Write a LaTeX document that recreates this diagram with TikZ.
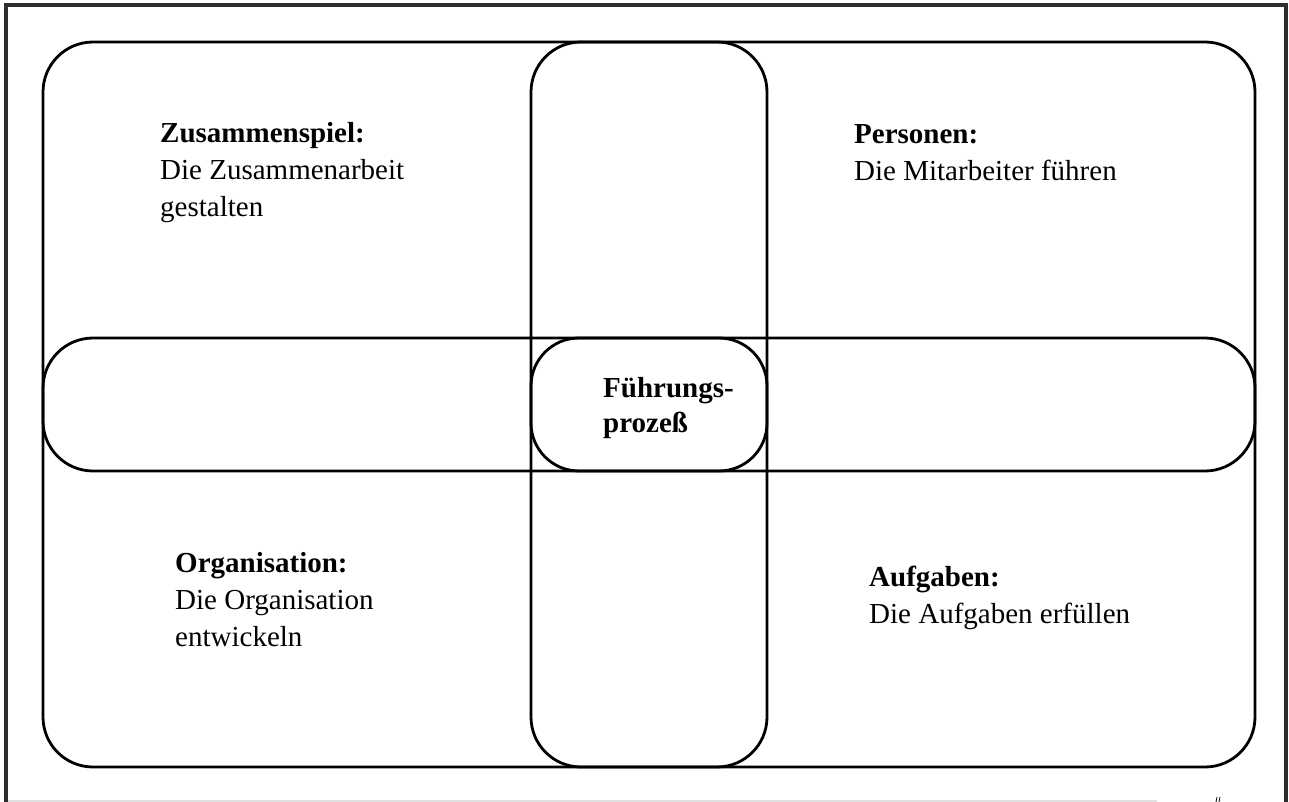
\documentclass[tikz,border=0pt]{standalone}
\usepackage{fontspec}
\setmainfont{Liberation Serif}
\begin{document}
\begin{tikzpicture}[x=1pt,y=-1pt,
  frameline/.style={draw=black!82,line width=4pt},
  roundbox/.style={draw=black,line width=2.8pt,rounded corners=#1,inner sep=0pt,outer sep=0pt},
  label/.style={anchor=base west,inner sep=0pt,font=\fontsize{29}{37}\selectfont},
  midlabel/.style={anchor=base west,inner sep=0pt,font=\fontsize{29}{35}\selectfont\bfseries}]
\useasboundingbox (0,0) rectangle (1289,802);

% page frame, open at the bottom
\coordinate (fl) at (5.5,802);
\coordinate (ftl) at (5.5,5.5);
\coordinate (ftr) at (1285.5,5.5);
\coordinate (fr) at (1285.5,802);
\draw[frameline] (fl) -- (ftl) -- (ftr) -- (fr);
\coordinate (bl) at (8,801);
\coordinate (br) at (1157,801);
\draw[black!12,line width=1.5pt] (bl) -- (br);
\coordinate (q1) at (1217,797);
\coordinate (q2) at (1216,802);
\coordinate (q3) at (1220,797);
\coordinate (q4) at (1219,802);
\draw[black,line width=0.8pt] (q1) -- (q2) (q3) -- (q4);

% the four fields, the cross and the centre
\node[roundbox=50pt,minimum width=1212pt,minimum height=725pt] (outer) at (649,404.5) {};
\node[roundbox=50pt,minimum width=236pt,minimum height=725pt] (vbar) at (649,404.5) {};
\node[roundbox=50pt,minimum width=1212pt,minimum height=133pt] (hbar) at (649,404.5) {};
\node[roundbox=48pt,minimum width=236pt,minimum height=133pt] (centre) at (649,404.5) {};

% texts; \vtop keeps the first line on the anchor's baseline
\node[label] (zus) at (160,143)
  {\vtop{\hbox{\textbf{Zusammenspiel:}}\hbox{Die Zusammenarbeit}\hbox{gestalten}}};
\node[label] (pers) at (854,144)
  {\vtop{\hbox{\textbf{Personen:}}\hbox{Die Mitarbeiter führen}}};
\node[label] (org) at (175,572)
  {\vtop{\hbox{\textbf{Organisation:}}\hbox{Die Organisation}\hbox{entwickeln}}};
\node[label] (aufg) at (869,586)
  {\vtop{\hbox{\textbf{Aufgaben:}}\hbox{Die Aufgaben erfüllen}}};
\node[midlabel] (fp) at (603,397)
  {\vtop{\hbox{Führungs-}\hbox{prozeß}}};
\end{tikzpicture}
\end{document}
